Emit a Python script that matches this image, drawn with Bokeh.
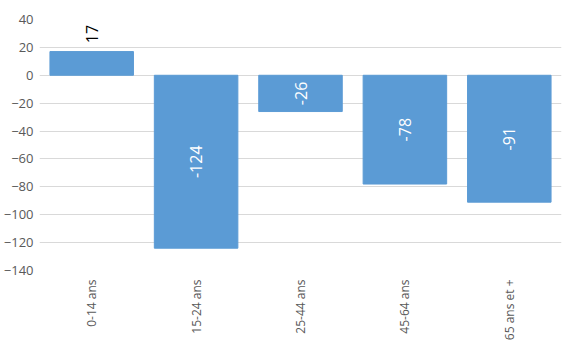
import math
from bokeh.plotting import figure
from bokeh.models import ColumnDataSource, Range1d, FixedTicker
from bokeh.core.properties import value
from bokeh.embed import file_html
from bokeh.resources import INLINE

categories = ["0-14 ans", "15-24 ans", "25-44 ans", "45-64 ans", "65 ans et +"]
values = [17, -124, -26, -78, -91]
y_ticks = [-140, -120, -100, -80, -60, -40, -20, 0, 20, 40]

FONT = "Open Sans"

lab_y = [v + 6 if v >= 0 else v / 2 for v in values]
lab_color = ["black" if v >= 0 else "white" for v in values]
lab_align = ["left" if v >= 0 else "center" for v in values]

src = ColumnDataSource(dict(cat=categories, val=values, ly=lab_y,
                            lc=lab_color, la=lab_align,
                            txt=[str(v) for v in values]))

p = figure(x_range=categories, y_range=Range1d(-140, 40),
           frame_width=522, frame_height=251,
           min_border_left=38, min_border_top=19, min_border_right=12, min_border_bottom=88,
           output_backend="svg", toolbar_location=None)

p.vbar(x="cat", top="val", bottom=0, width=0.8, source=src,
       fill_color="#5B9BD5", line_color="#5B9BD5")

p.text(x="cat", y="ly", text="txt", source=src, angle=math.pi / 2,
       text_align="la", text_baseline="middle", text_color="lc",
       text_font=value(FONT), text_font_size="16px")

p.yaxis.ticker = FixedTicker(ticks=y_ticks)
p.yaxis.axis_line_color = None
p.yaxis.major_tick_line_color = None
p.yaxis.minor_tick_line_color = None
p.yaxis.major_tick_out = 0
p.yaxis.minor_tick_out = 0
p.yaxis.major_label_text_font = FONT
p.yaxis.major_label_text_font_size = "13px"
p.yaxis.major_label_text_color = "#595959"
p.yaxis.major_label_standoff = 6

p.xaxis.axis_line_color = None
p.xaxis.major_tick_line_color = None
p.xaxis.minor_tick_line_color = None
p.xaxis.major_tick_out = 0
p.xaxis.minor_tick_out = 0
p.xaxis.major_label_orientation = math.pi / 2
p.xaxis.major_label_text_font = FONT
p.xaxis.major_label_text_font_size = "12px"
p.xaxis.major_label_text_color = "#595959"
p.xaxis.major_label_standoff = 9

p.xgrid.grid_line_color = None
p.ygrid.grid_line_color = "#D9D9D9"
p.ygrid.ticker = FixedTicker(ticks=y_ticks)
p.outline_line_color = None
p.background_fill_color = "white"
p.border_fill_color = "white"

open("out.html", "w").write(file_html(p, INLINE))
